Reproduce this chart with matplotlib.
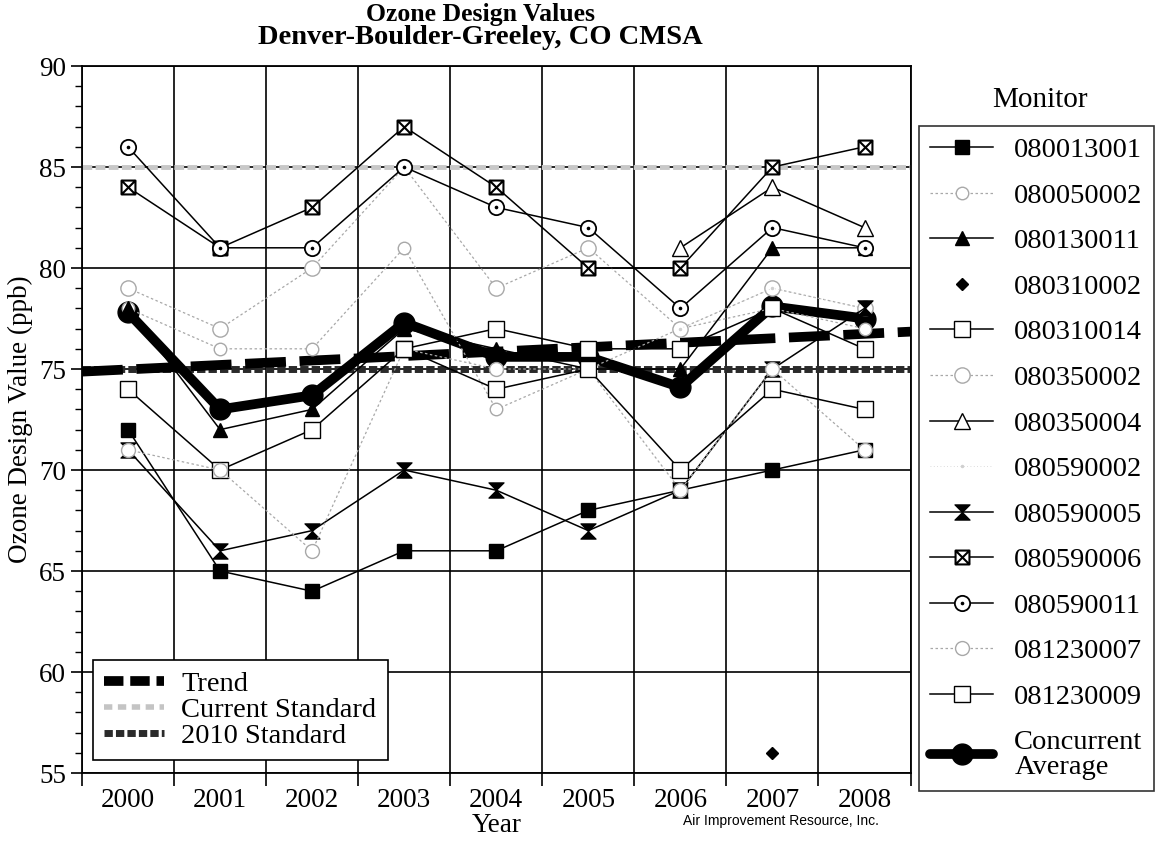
import numpy as np
import matplotlib
matplotlib.use('Agg')
import matplotlib.pyplot as plt
from matplotlib.path import Path
from matplotlib.lines import Line2D

plt.rcParams['font.family'] = ['Liberation Serif', 'DejaVu Serif']

years = [2000, 2001, 2002, 2003, 2004, 2005, 2006, 2007, 2008]
nan = np.nan

# monitor design values (ppb)
m080013001 = [72, 65, 64, 66, 66, 68, 69, 70, 71]
m080050002 = [78, 76, 76, 81, 73, 75, 77, 78, 77]
m080130011 = [78, 72, 73, 77, 76, 75, 75, 81, 81]
m080310002 = [nan, nan, nan, nan, nan, nan, nan, 56, nan]
m080310014 = [74, 70, 72, 76, 77, 76, 76, 78, 76]
m080350002 = [79, 77, 80, 85, 79, 81, 77, 79, 78]
m080350004 = [nan, nan, nan, nan, nan, nan, 81, 84, 82]
m080590002 = [nan, nan, nan, nan, nan, nan, 77, 79, 78]
m080590005 = [71, 66, 67, 70, 69, 67, 69, 75, 78]
m080590006 = [84, 81, 83, 87, 84, 80, 80, 85, 86]
m080590011 = [86, 81, 81, 85, 83, 82, 78, 82, 81]
m081230007 = [71, 70, 66, 76, 75, 75, 69, 75, 71]
m081230009 = [nan, nan, nan, 76, 74, 75, 70, 74, 73]
concurrent_avg = [77.8, 73.0, 73.7, 77.3, 75.6, 75.6, 74.1, 78.1, 77.5]

trend_x = [-0.5, 8.5]
trend_y = [74.87, 76.85]
current_std = 85
std_2010 = 75

# custom markers
boxx = Path([(-1, -1), (1, -1), (1, 1), (-1, 1), (-1, -1), (-1, -1), (1, 1), (-1, 1), (1, -1)],
            [Path.MOVETO, Path.LINETO, Path.LINETO, Path.LINETO, Path.CLOSEPOLY,
             Path.MOVETO, Path.LINETO, Path.MOVETO, Path.LINETO])
hourglass = Path([(-1, 1), (1, 1), (-1, -1), (1, -1), (-1, 1)],
                 [Path.MOVETO, Path.LINETO, Path.LINETO, Path.LINETO, Path.CLOSEPOLY])
c1 = Path.circle((0, 0), 1.0)
c2 = Path.circle((0, 0), 0.12)
circdot = Path.make_compound_path(c1, c2)

gray = '#a8a8a8'
lgray = '#d0d0d0'

fig = plt.figure(figsize=(11.58, 8.44), dpi=100)
ax = fig.add_axes([0.0708, 0.0841, 0.7155, 0.8377])

x = np.arange(len(years))

# standards and trend
ax.plot([-0.5, 8.5], [current_std] * 2, color='#c8c8c8', lw=3.5, dashes=(2.0, 0.7), zorder=2)
ax.plot([-0.5, 8.5], [std_2010] * 2, color='#2a2a2a', lw=5, dashes=(1.2, 0.45), zorder=2)
ax.plot(trend_x, trend_y, color='black', lw=7, dashes=(4.2, 1.4), zorder=3)

series = [
    ('080013001', m080013001, dict(color='black', lw=1.1, marker='s', ms=10, mfc='black', mec='black')),
    ('080050002', m080050002, dict(color=gray, lw=0.9, ls=(0, (2, 2)), marker='o', ms=9, mfc='white', mec=gray)),
    ('080130011', m080130011, dict(color='black', lw=1.1, marker='^', ms=10, mfc='black', mec='black')),
    ('080310002', m080310002, dict(color='black', lw=1.1, ls='none', marker='D', ms=6, mfc='black', mec='black')),
    ('080310014', m080310014, dict(color='black', lw=1.1, marker='s', ms=11, mfc='white', mec='black')),
    ('080350002', m080350002, dict(color=gray, lw=0.9, ls=(0, (2, 2)), marker='o', ms=11, mfc='white', mec=gray)),
    ('080350004', m080350004, dict(color='black', lw=1.1, marker='^', ms=12, mfc='white', mec='black')),
    ('080590002', m080590002, dict(color=lgray, lw=0.6, ls=(0, (1, 3)), marker='.', ms=3, mfc=lgray, mec=lgray)),
    ('080590005', m080590005, dict(color='black', lw=1.1, marker=hourglass, ms=11, mfc='black', mec='black', mew=0.8)),
    ('080590006', m080590006, dict(color='black', lw=1.1, marker=boxx, ms=10, mfc='white', mec='black', mew=1.5)),
    ('080590011', m080590011, dict(color='black', lw=1.1, marker=circdot, ms=11, mfc='white', mec='black', mew=1.3)),
    ('081230007', m081230007, dict(color=gray, lw=0.9, ls=(0, (2, 2)), marker='o', ms=10, mfc='white', mec=gray)),
    ('081230009', m081230009, dict(color='black', lw=1.1, marker='s', ms=11, mfc='white', mec='black')),
]

handles = []
for name, vals, kw in series:
    ln, = ax.plot(x, vals, label=name, zorder=5, **kw)
    handles.append(ln)

avg, = ax.plot(x, concurrent_avg, color='black', lw=7, marker='o', ms=15,
               solid_capstyle='round', solid_joinstyle='round', label='Concurrent\nAverage', zorder=4)
handles.append(avg)

ax.set_xlim(-0.5, 8.5)
ax.set_ylim(55, 90)
ax.set_xticks(np.arange(-0.5, 9, 1))
ax.set_xticklabels([])
ax.set_xticks(x, minor=True)
ax.set_xticklabels([str(y) for y in years], minor=True, fontsize=19.5)
ax.tick_params(axis='x', which='major', direction='out', length=9, width=1.2)
ax.tick_params(axis='x', which='minor', length=0, pad=11)
ax.set_yticks(np.arange(55, 91, 5))
ax.set_yticks(np.arange(55, 91, 1), minor=True)
ax.tick_params(axis='y', which='major', direction='out', length=8, width=1.2, labelsize=19.5)
ax.tick_params(axis='y', which='minor', direction='out', length=5, width=1)
ax.grid(True, which='major', color='black', lw=1.2, zorder=1)
for s in ax.spines.values():
    s.set_linewidth(1.3)

ax.set_xlabel('Year', fontsize=19.5, labelpad=0)
ax.set_ylabel('Ozone Design Value (ppb)', fontsize=19.5, labelpad=4)
fig.text(0.415, 1 - 15 / 844, 'Ozone Design Values', fontsize=18.5,
         fontweight='bold', ha='center', va='center')
fig.text(0.415, 1 - 38 / 844, 'Denver-Boulder-Greeley, CO CMSA', fontsize=20.5,
         fontweight='bold', ha='center', va='center')

fig.text(0.674, 1 - 821 / 844, 'Air Improvement Resource, Inc.', fontsize=10,
         family=['Liberation Sans', 'DejaVu Sans'], ha='center', va='center')

# monitor legend (title outside box)
fig.text(0.898, 0.881, 'Monitor', fontsize=21, ha='center', va='center')
leg = fig.legend(handles=handles, loc='upper left', bbox_to_anchor=(0.7935, 0.851),
                 fontsize=20.5, frameon=True, fancybox=False, edgecolor='black',
                 handlelength=2.2, labelspacing=0.69, borderpad=0.4, handletextpad=0.75,
                 borderaxespad=0)
leg.get_frame().set_linewidth(1.2)
leg.get_texts()[-1].set_linespacing(1.0)

std_handles = [
    Line2D([], [], color='black', lw=7, dashes=(2.0, 0.7)),
    Line2D([], [], color='#c4c4c4', lw=4, dashes=(1.5, 1.0)),
    Line2D([], [], color='#2a2a2a', lw=5, dashes=(1.2, 0.45)),
]
leg2 = ax.legend(std_handles, ['Trend', 'Current Standard', '2010 Standard'], loc='lower left',
                 bbox_to_anchor=(0.0133, 0.018), fontsize=20.5, frameon=True, fancybox=False,
                 edgecolor='black', handlelength=2.1, labelspacing=0.0, borderpad=0.4,
                 handletextpad=0.6, borderaxespad=0, framealpha=1)
leg2.get_frame().set_linewidth(1.2)
leg2.set_zorder(10)

fig.savefig('out.png', dpi=100)
